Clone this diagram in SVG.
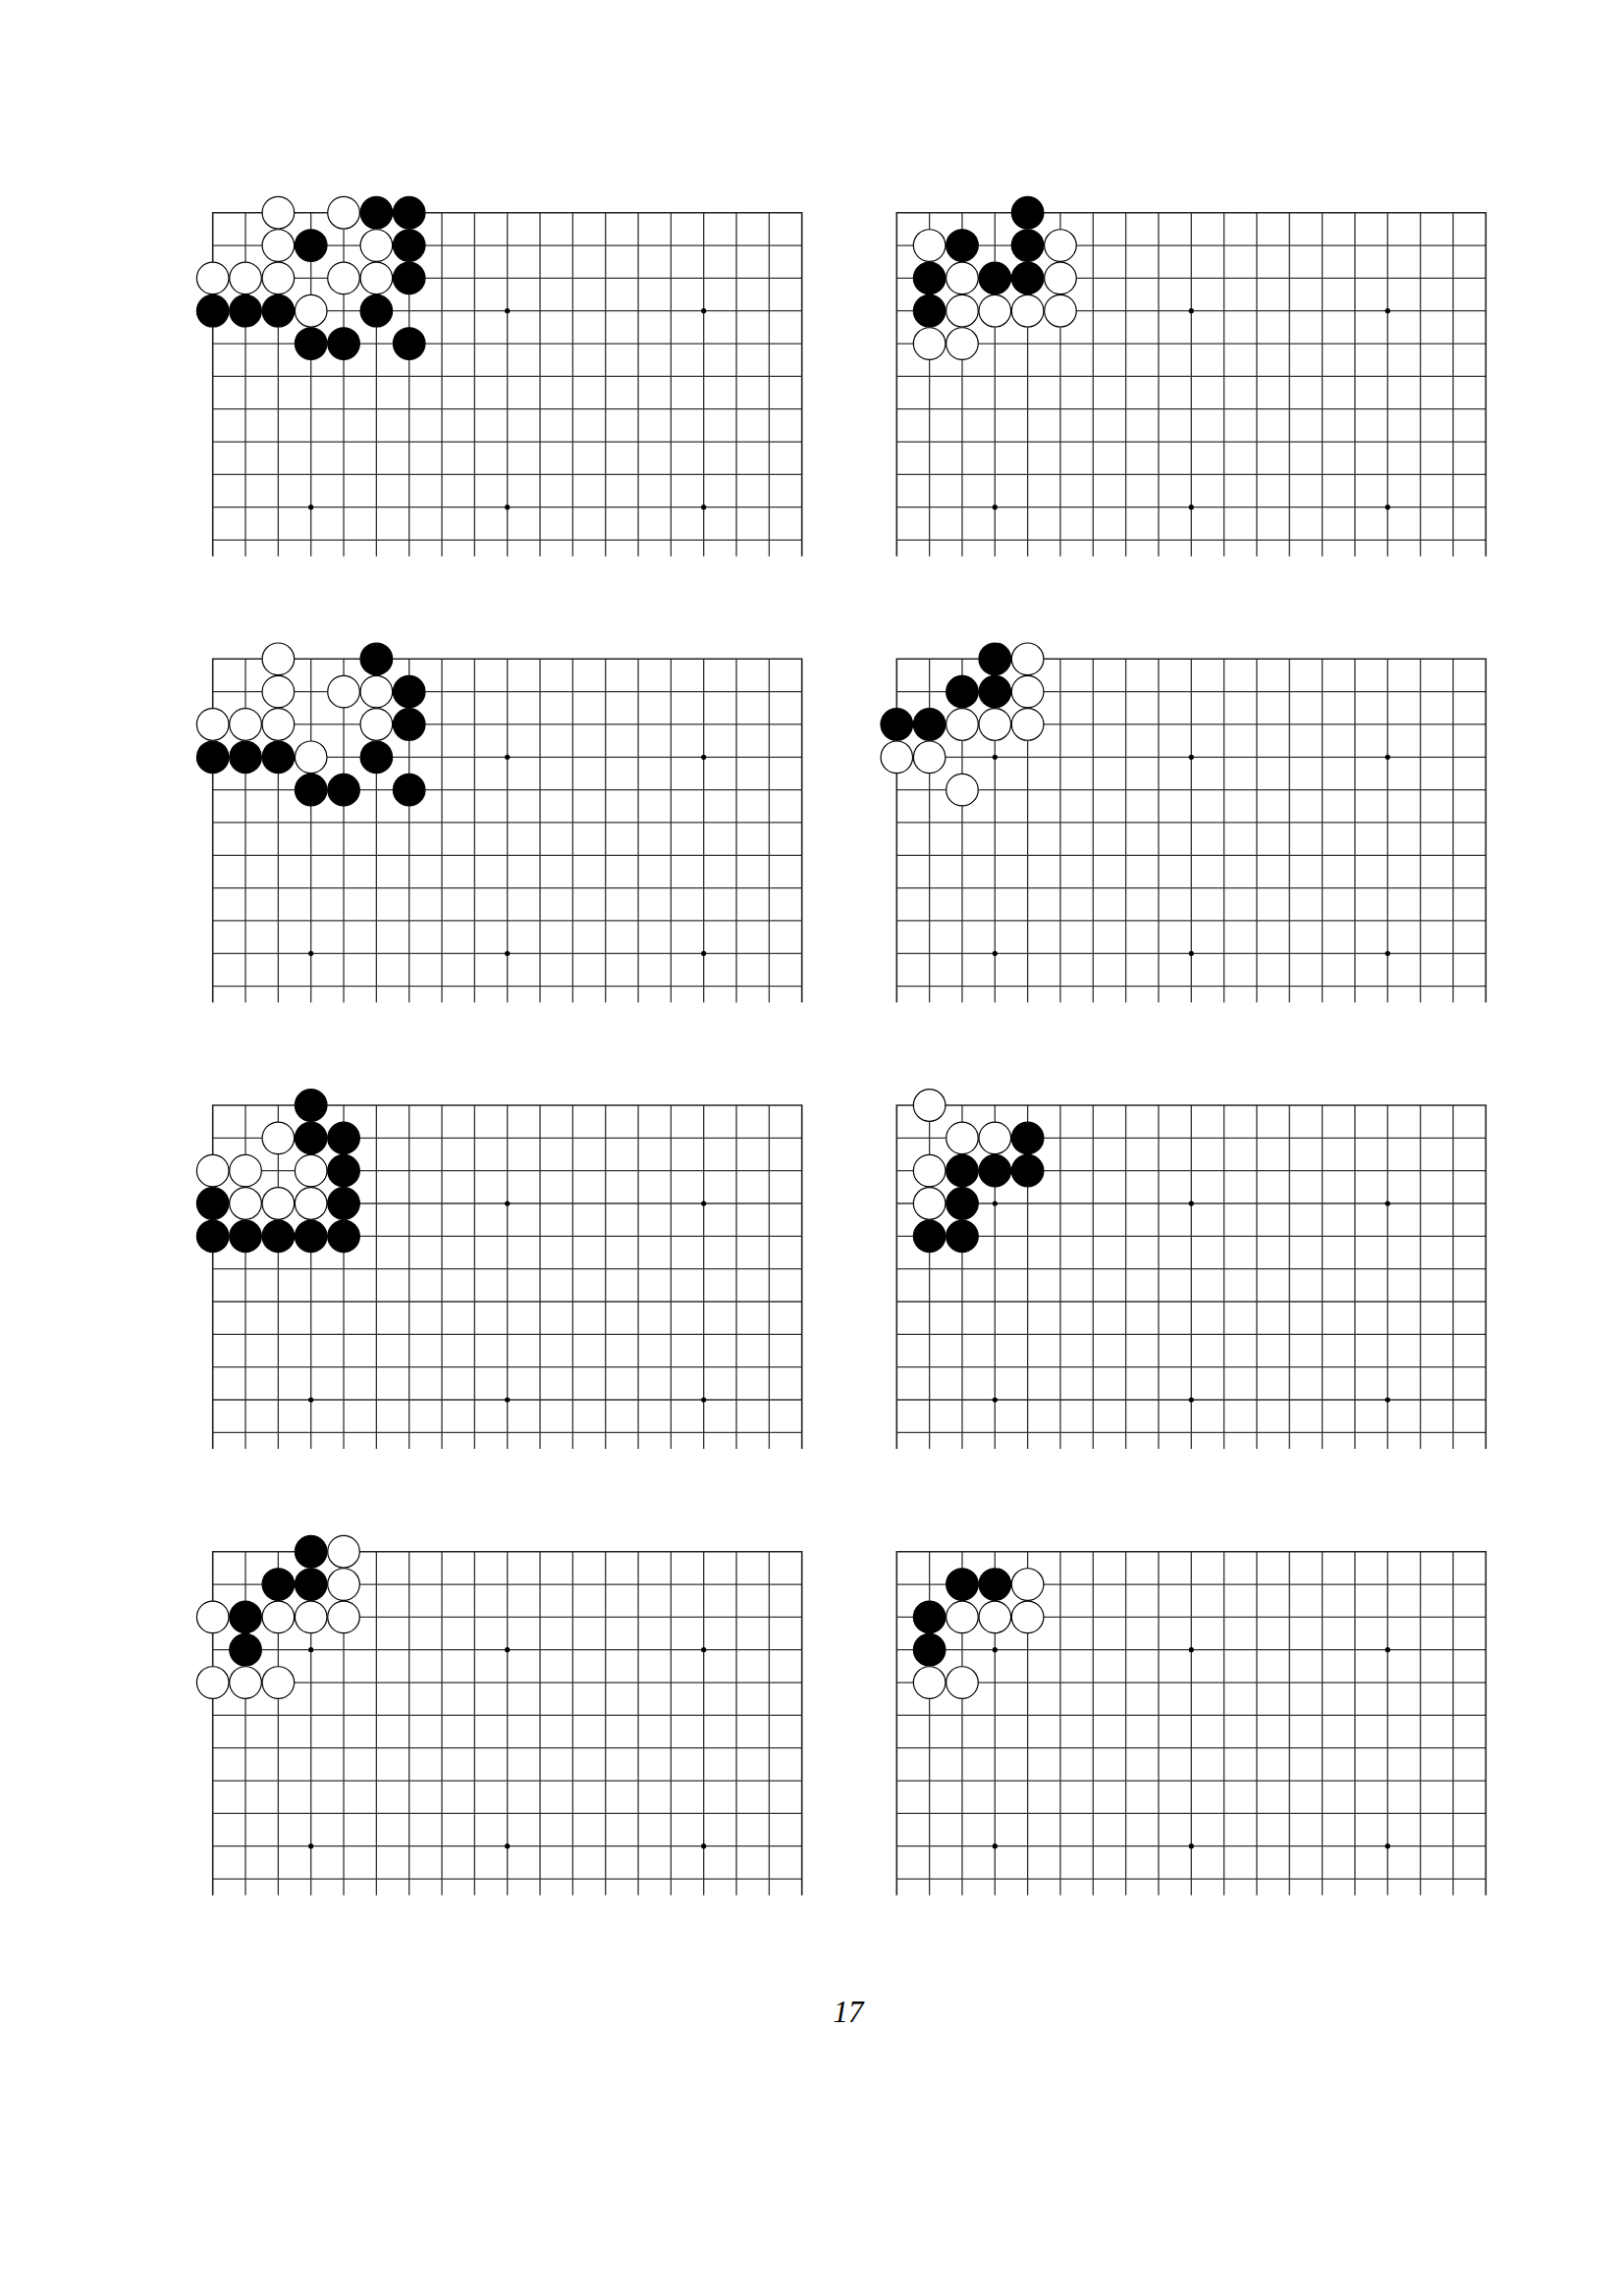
<svg xmlns="http://www.w3.org/2000/svg" xmlns:xlink="http://www.w3.org/1999/xlink" width="1653" height="2339" viewBox="0 0 1653 2339">
<style>
.gl{stroke:#333;stroke-width:1.3;fill:none}
.edge{stroke:#222;stroke-width:1.6;fill:none}
.b{fill:#000;stroke:#000;stroke-width:1.2}
.w{fill:#fff;stroke:#000;stroke-width:1.2}
.star{fill:#000}
.pn{font-family:"Liberation Serif",serif;font-style:italic;font-size:31px;fill:#000}
</style>
<defs>
<g id="grid">
<path class="gl" d="M0 33.33H600M0 66.67H600M0 100H600M0 133.33H600M0 166.67H600M0 200H600M0 233.33H600M0 266.67H600M0 300H600M0 333.33H600"/>
<path class="gl" d="M33.33 0V350M66.67 0V350M100 0V350M133.33 0V350M166.67 0V350M200 0V350M233.33 0V350M266.67 0V350M300 0V350M333.33 0V350M366.67 0V350M400 0V350M433.33 0V350M466.67 0V350M500 0V350M533.33 0V350M566.67 0V350"/>
<path class="edge" d="M0 350V0H600V350"/>
<circle class="star" cx="100" cy="100" r="2.6"/><circle class="star" cx="300" cy="100" r="2.6"/><circle class="star" cx="500" cy="100" r="2.6"/>
<circle class="star" cx="100" cy="300" r="2.6"/><circle class="star" cx="300" cy="300" r="2.6"/><circle class="star" cx="500" cy="300" r="2.6"/>
</g>
</defs>
<rect width="1653" height="2339" fill="#fff"/>

<g id="board1" transform="translate(216.7,216.7)">
<use xlink:href="#grid" href="#grid"/>
<circle class="w" cx="66.67" cy="0" r="16.3"/><circle class="w" cx="133.33" cy="0" r="16.3"/><circle class="b" cx="166.67" cy="0" r="16.3"/><circle class="b" cx="200" cy="0" r="16.3"/>
<circle class="w" cx="66.67" cy="33.33" r="16.3"/><circle class="b" cx="100" cy="33.33" r="16.3"/><circle class="w" cx="166.67" cy="33.33" r="16.3"/><circle class="b" cx="200" cy="33.33" r="16.3"/>
<circle class="w" cx="0" cy="66.67" r="16.3"/><circle class="w" cx="33.33" cy="66.67" r="16.3"/><circle class="w" cx="66.67" cy="66.67" r="16.3"/><circle class="w" cx="133.33" cy="66.67" r="16.3"/><circle class="w" cx="166.67" cy="66.67" r="16.3"/><circle class="b" cx="200" cy="66.67" r="16.3"/>
<circle class="b" cx="0" cy="100" r="16.3"/><circle class="b" cx="33.33" cy="100" r="16.3"/><circle class="b" cx="66.67" cy="100" r="16.3"/><circle class="w" cx="100" cy="100" r="16.3"/><circle class="b" cx="166.67" cy="100" r="16.3"/>
<circle class="b" cx="100" cy="133.33" r="16.3"/><circle class="b" cx="133.33" cy="133.33" r="16.3"/><circle class="b" cx="200" cy="133.33" r="16.3"/>
</g>

<g id="board2" transform="translate(913.3,216.7)">
<use xlink:href="#grid" href="#grid"/>
<circle class="b" cx="133.33" cy="0" r="16.3"/>
<circle class="w" cx="33.33" cy="33.33" r="16.3"/><circle class="b" cx="66.67" cy="33.33" r="16.3"/><circle class="b" cx="133.33" cy="33.33" r="16.3"/><circle class="w" cx="166.67" cy="33.33" r="16.3"/>
<circle class="b" cx="33.33" cy="66.67" r="16.3"/><circle class="w" cx="66.67" cy="66.67" r="16.3"/><circle class="b" cx="100" cy="66.67" r="16.3"/><circle class="b" cx="133.33" cy="66.67" r="16.3"/><circle class="w" cx="166.67" cy="66.67" r="16.3"/>
<circle class="b" cx="33.33" cy="100" r="16.3"/><circle class="w" cx="66.67" cy="100" r="16.3"/><circle class="w" cx="100" cy="100" r="16.3"/><circle class="w" cx="133.33" cy="100" r="16.3"/><circle class="w" cx="166.67" cy="100" r="16.3"/>
<circle class="w" cx="33.33" cy="133.33" r="16.3"/><circle class="w" cx="66.67" cy="133.33" r="16.3"/>
</g>

<g id="board3" transform="translate(216.7,671.3)">
<use xlink:href="#grid" href="#grid"/>
<circle class="w" cx="66.67" cy="0" r="16.3"/><circle class="b" cx="166.67" cy="0" r="16.3"/>
<circle class="w" cx="66.67" cy="33.33" r="16.3"/><circle class="w" cx="133.33" cy="33.33" r="16.3"/><circle class="w" cx="166.67" cy="33.33" r="16.3"/><circle class="b" cx="200" cy="33.33" r="16.3"/>
<circle class="w" cx="0" cy="66.67" r="16.3"/><circle class="w" cx="33.33" cy="66.67" r="16.3"/><circle class="w" cx="66.67" cy="66.67" r="16.3"/><circle class="w" cx="166.67" cy="66.67" r="16.3"/><circle class="b" cx="200" cy="66.67" r="16.3"/>
<circle class="b" cx="0" cy="100" r="16.3"/><circle class="b" cx="33.33" cy="100" r="16.3"/><circle class="b" cx="66.67" cy="100" r="16.3"/><circle class="w" cx="100" cy="100" r="16.3"/><circle class="b" cx="166.67" cy="100" r="16.3"/>
<circle class="b" cx="100" cy="133.33" r="16.3"/><circle class="b" cx="133.33" cy="133.33" r="16.3"/><circle class="b" cx="200" cy="133.33" r="16.3"/>
</g>

<g id="board4" transform="translate(913.3,671.3)">
<use xlink:href="#grid" href="#grid"/>
<circle class="b" cx="100" cy="0" r="16.3"/><circle class="w" cx="133.33" cy="0" r="16.3"/>
<circle class="b" cx="66.67" cy="33.33" r="16.3"/><circle class="b" cx="100" cy="33.33" r="16.3"/><circle class="w" cx="133.33" cy="33.33" r="16.3"/>
<circle class="b" cx="0" cy="66.67" r="16.3"/><circle class="b" cx="33.33" cy="66.67" r="16.3"/><circle class="w" cx="66.67" cy="66.67" r="16.3"/><circle class="w" cx="100" cy="66.67" r="16.3"/><circle class="w" cx="133.33" cy="66.67" r="16.3"/>
<circle class="w" cx="0" cy="100" r="16.3"/><circle class="w" cx="33.33" cy="100" r="16.3"/>
<circle class="w" cx="66.67" cy="133.33" r="16.3"/>
</g>

<g id="board5" transform="translate(216.7,1126)">
<use xlink:href="#grid" href="#grid"/>
<circle class="b" cx="100" cy="0" r="16.3"/>
<circle class="w" cx="66.67" cy="33.33" r="16.3"/><circle class="b" cx="100" cy="33.33" r="16.3"/><circle class="b" cx="133.33" cy="33.33" r="16.3"/>
<circle class="w" cx="0" cy="66.67" r="16.3"/><circle class="w" cx="33.33" cy="66.67" r="16.3"/><circle class="w" cx="100" cy="66.67" r="16.3"/><circle class="b" cx="133.33" cy="66.67" r="16.3"/>
<circle class="b" cx="0" cy="100" r="16.3"/><circle class="w" cx="33.33" cy="100" r="16.3"/><circle class="w" cx="66.67" cy="100" r="16.3"/><circle class="w" cx="100" cy="100" r="16.3"/><circle class="b" cx="133.33" cy="100" r="16.3"/>
<circle class="b" cx="0" cy="133.33" r="16.3"/><circle class="b" cx="33.33" cy="133.33" r="16.3"/><circle class="b" cx="66.67" cy="133.33" r="16.3"/><circle class="b" cx="100" cy="133.33" r="16.3"/><circle class="b" cx="133.33" cy="133.33" r="16.3"/>
</g>

<g id="board6" transform="translate(913.3,1126)">
<use xlink:href="#grid" href="#grid"/>
<circle class="w" cx="33.33" cy="0" r="16.3"/>
<circle class="w" cx="66.67" cy="33.33" r="16.3"/><circle class="w" cx="100" cy="33.33" r="16.3"/><circle class="b" cx="133.33" cy="33.33" r="16.3"/>
<circle class="w" cx="33.33" cy="66.67" r="16.3"/><circle class="b" cx="66.67" cy="66.67" r="16.3"/><circle class="b" cx="100" cy="66.67" r="16.3"/><circle class="b" cx="133.33" cy="66.67" r="16.3"/>
<circle class="w" cx="33.33" cy="100" r="16.3"/><circle class="b" cx="66.67" cy="100" r="16.3"/>
<circle class="b" cx="33.33" cy="133.33" r="16.3"/><circle class="b" cx="66.67" cy="133.33" r="16.3"/>
</g>

<g id="board7" transform="translate(216.7,1580.7)">
<use xlink:href="#grid" href="#grid"/>
<circle class="b" cx="100" cy="0" r="16.3"/><circle class="w" cx="133.33" cy="0" r="16.3"/>
<circle class="b" cx="66.67" cy="33.33" r="16.3"/><circle class="b" cx="100" cy="33.33" r="16.3"/><circle class="w" cx="133.33" cy="33.33" r="16.3"/>
<circle class="w" cx="0" cy="66.67" r="16.3"/><circle class="b" cx="33.33" cy="66.67" r="16.3"/><circle class="w" cx="66.67" cy="66.67" r="16.3"/><circle class="w" cx="100" cy="66.67" r="16.3"/><circle class="w" cx="133.33" cy="66.67" r="16.3"/>
<circle class="b" cx="33.33" cy="100" r="16.3"/>
<circle class="w" cx="0" cy="133.33" r="16.3"/><circle class="w" cx="33.33" cy="133.33" r="16.3"/><circle class="w" cx="66.67" cy="133.33" r="16.3"/>
</g>

<g id="board8" transform="translate(913.3,1580.7)">
<use xlink:href="#grid" href="#grid"/>
<circle class="b" cx="66.67" cy="33.33" r="16.3"/><circle class="b" cx="100" cy="33.33" r="16.3"/><circle class="w" cx="133.33" cy="33.33" r="16.3"/>
<circle class="b" cx="33.33" cy="66.67" r="16.3"/><circle class="w" cx="66.67" cy="66.67" r="16.3"/><circle class="w" cx="100" cy="66.67" r="16.3"/><circle class="w" cx="133.33" cy="66.67" r="16.3"/>
<circle class="b" cx="33.33" cy="100" r="16.3"/>
<circle class="w" cx="33.33" cy="133.33" r="16.3"/><circle class="w" cx="66.67" cy="133.33" r="16.3"/>
</g>

<g id="connectors"></g>

<text id="page-number" class="pn" x="864" y="2060" text-anchor="middle">17</text>
</svg>
